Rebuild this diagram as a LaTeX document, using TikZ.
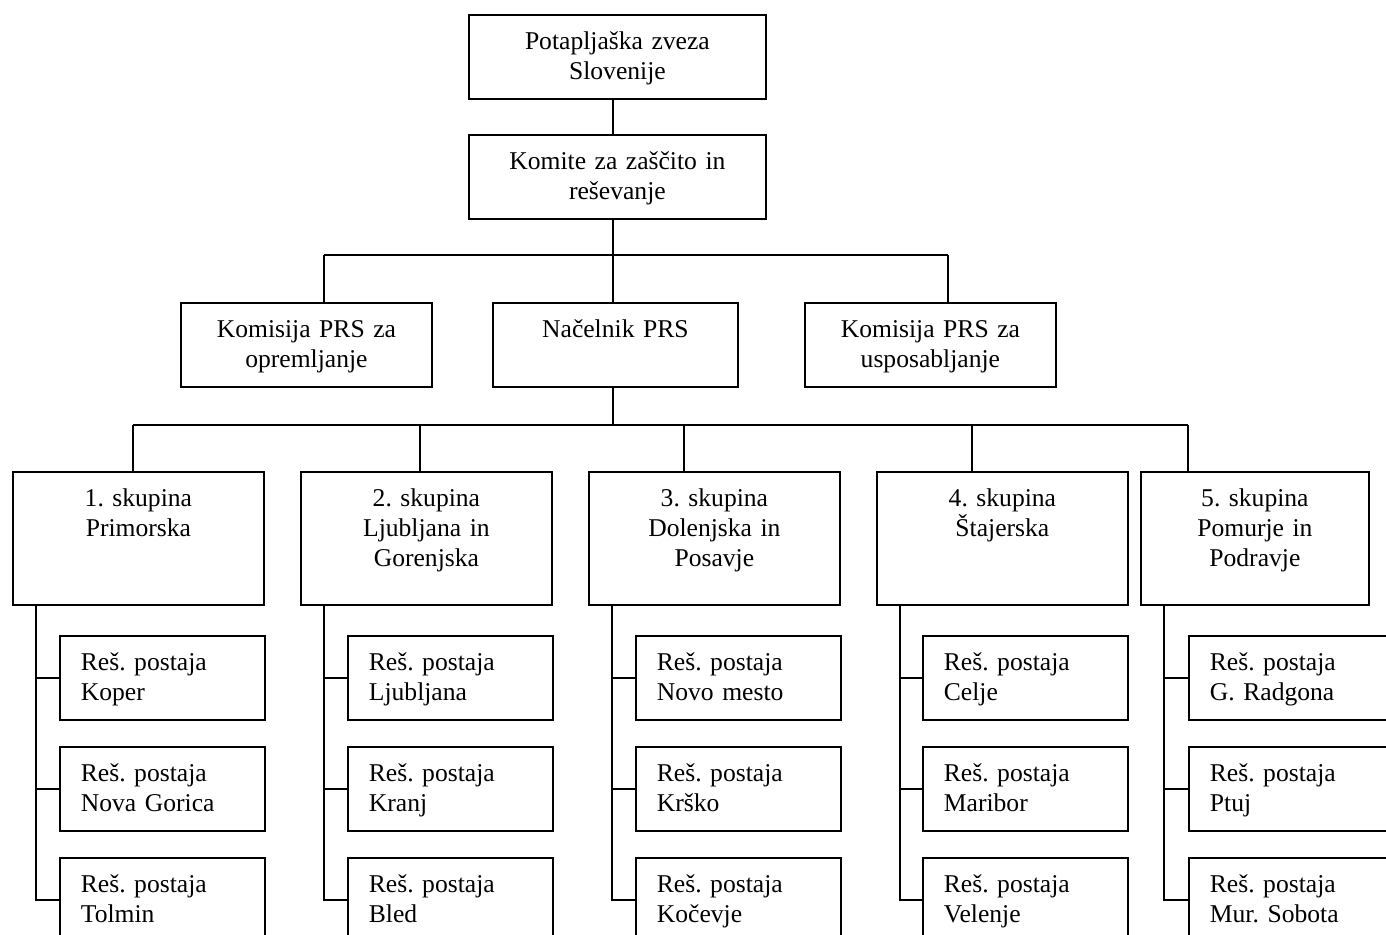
\documentclass[tikz,border=0pt]{standalone}
\usepackage{fontspec}
\setmainfont{Liberation Serif}
\frenchspacing

\tikzset{
	kast/.style={draw, line width=0.9pt, anchor=north west, inner xsep=0pt, inner ysep=0pt,
		align=center, font=\fontsize{12.8}{15}\selectfont, text height=17.5pt},
	vrh/.style={kast, text width=148.5pt, text depth=24.5pt},
	sred/.style={kast, text depth=24.5pt},
	skup/.style={kast, text depth=49pt},
	post/.style={kast, align=left, inner xsep=10.5pt, text width=81.5pt, text depth=24.5pt},
	veza/.style={line width=0.9pt}
}

\begin{document}
\begin{tikzpicture}[x=0.5pt,y=-0.5pt]
				\useasboundingbox (0,0) rectangle (1386,935);
				\clip (0,0) rectangle (1386,935);
				
				\node[vrh] (psz) at (468,14) {Potapljaška zveza\\Slovenije};
				\node[vrh] (komite) at (468,134) {Komite za zaščito in\\reševanje};
				
				\node[sred, text width=125.5pt] (opr) at (180,302) {Komisija PRS za\\opremljanje};
				\node[sred, text width=122.5pt] (nac) at (492,302) {Načelnik PRS};
				\node[sred, text width=125.5pt] (usp) at (804,302) {Komisija PRS za\\usposabljanje};
				
				\node[skup, text width=125.5pt] (sk1) at (12,471) {1. skupina\\Primorska};
				\node[skup, text width=125.5pt] (sk2) at (300,471) {2. skupina\\Ljubljana in\\Gorenjska};
				\node[skup, text width=125.5pt] (sk3) at (588,471) {3. skupina\\Dolenjska in\\Posavje};
				\node[skup, text width=125.5pt] (sk4) at (876,471) {4. skupina\\Štajerska};
				\node[skup, text width=114pt] (sk5) at (1140,471) {5. skupina\\Pomurje in\\Podravje};
				
				\node[post] (st11) at (59,635) {Reš. postaja\\Koper};
				\node[post] (st12) at (59,746) {Reš. postaja\\Nova Gorica};
				\node[post] (st13) at (59,857) {Reš. postaja\\Tolmin};
				\node[post] (st21) at (347,635) {Reš. postaja\\Ljubljana};
				\node[post] (st22) at (347,746) {Reš. postaja\\Kranj};
				\node[post] (st23) at (347,857) {Reš. postaja\\Bled};
				\node[post] (st31) at (635,635) {Reš. postaja\\Novo mesto};
				\node[post] (st32) at (635,746) {Reš. postaja\\Krško};
				\node[post] (st33) at (635,857) {Reš. postaja\\Kočevje};
				\node[post] (st41) at (922,635) {Reš. postaja\\Celje};
				\node[post] (st42) at (922,746) {Reš. postaja\\Maribor};
				\node[post] (st43) at (922,857) {Reš. postaja\\Velenje};
				\node[post] (st51) at (1188,635) {Reš. postaja\\G. Radgona};
				\node[post] (st52) at (1188,746) {Reš. postaja\\Ptuj};
				\node[post] (st53) at (1188,857) {Reš. postaja\\Mur. Sobota};
				
				\coordinate (r1) at (613,255);
				\coordinate (r2) at (613,425);
				\coordinate (o1) at (324,255);
				\coordinate (u1) at (948,255);
				\coordinate (g1) at (133,425);
				\coordinate (g2) at (420,425);
				\coordinate (g3) at (684,425);
				\coordinate (g4) at (972,425);
				\coordinate (g5) at (1188,425);
				\coordinate (p1) at (36,0);
				\coordinate (p2) at (324,0);
				\coordinate (p3) at (612,0);
				\coordinate (p4) at (900,0);
				\coordinate (p5) at (1164,0);
				
				\draw[veza] (psz.south -| r1) -- (komite.north -| r1);
				\draw[veza] (komite.south -| r1) -- (r1);
				\draw[veza] (o1) -- (u1);
				\draw[veza] (o1) -- (opr.north -| o1);
				\draw[veza] (u1) -- (usp.north -| u1);
				\draw[veza] (r1) -- (nac.north -| r1);
				\draw[veza] (nac.south -| r1) -- (r2);
				
				\draw[veza] (g1) -- (g5);
				\draw[veza] (g1) -- (sk1.north -| g1);
				\draw[veza] (g2) -- (sk2.north -| g2);
				\draw[veza] (g3) -- (sk3.north -| g3);
				\draw[veza] (g4) -- (sk4.north -| g4);
				\draw[veza] (g5) -- (sk5.north -| g5);
				
				\draw[veza] (sk1.south -| p1) |- (st13.west);
				\draw[veza] (p1 |- st11.west) -- (st11.west);
				\draw[veza] (p1 |- st12.west) -- (st12.west);
				\draw[veza] (sk2.south -| p2) |- (st23.west);
				\draw[veza] (p2 |- st21.west) -- (st21.west);
				\draw[veza] (p2 |- st22.west) -- (st22.west);
				\draw[veza] (sk3.south -| p3) |- (st33.west);
				\draw[veza] (p3 |- st31.west) -- (st31.west);
				\draw[veza] (p3 |- st32.west) -- (st32.west);
				\draw[veza] (sk4.south -| p4) |- (st43.west);
				\draw[veza] (p4 |- st41.west) -- (st41.west);
				\draw[veza] (p4 |- st42.west) -- (st42.west);
				\draw[veza] (sk5.south -| p5) |- (st53.west);
				\draw[veza] (p5 |- st51.west) -- (st51.west);
				\draw[veza] (p5 |- st52.west) -- (st52.west);
\end{tikzpicture}
\end{document}
